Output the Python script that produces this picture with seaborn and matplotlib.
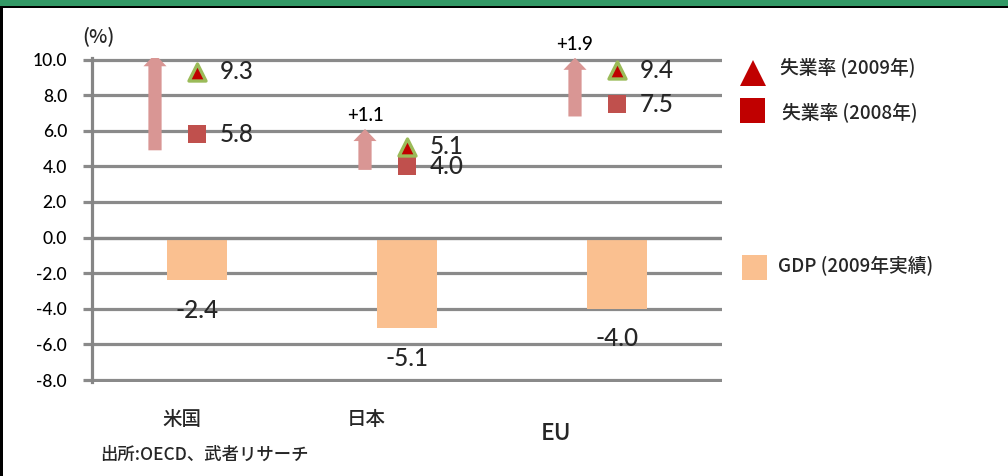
import matplotlib
matplotlib.use("Agg")
import matplotlib.pyplot as plt
import seaborn as sns
import pandas as pd
from matplotlib.patches import FancyArrow, Rectangle
from matplotlib.lines import Line2D

# ---------------- data ----------------
categories = ["米国", "日本", "EU"]
unemp_2009 = [9.3, 5.1, 9.4]
unemp_2008 = [5.8, 4.0, 7.5]
gdp_2009 = [-2.4, -5.1, -4.0]
arrow_bottom = [4.9, 3.8, 6.8]
arrow_top = [10.3, 6.1, 10.1]
yticks = [-8, -6, -4, -2, 0, 2, 4, 6, 8, 10]
legend_labels = ["失業率 (2009年)", "失業率 (2008年)", "GDP (2009年実績)"]
unit_label = "(%)"
source_note = "出所:OECD、武者リサーチ"

# ---------------- style ----------------
sns.set_theme(style="white")
plt.rcParams["font.family"] = ["Lato", "Noto Sans CJK JP", "DejaVu Sans"]
plt.rcParams["font.weight"] = 500
CJK = ["Noto Sans CJK JP", "DejaVu Sans"]

W, H = 1008, 476
fig = plt.figure(figsize=(W / 100, H / 100), dpi=100)
fig.patch.set_facecolor("white")

ppu = 320.5 / 18.0
ext = 0.1
top_px = 59.5 - ext * ppu
bot_px = 380.0 + ext * ppu
ax = fig.add_axes([92 / W, 1 - bot_px / H, 630 / W, (bot_px - top_px) / H])

GRID = "#8a8a8a"
AXC = "#868686"
BAR = "#FAC090"
ARROW = "#D99694"

df = pd.DataFrame({"country": categories, "gdp": gdp_2009,
                   "u08": unemp_2008, "u09": unemp_2009})

sns.barplot(data=df, x="country", y="gdp", color=BAR, saturation=1,
            width=0.286, ax=ax, zorder=3, linewidth=0)
sns.scatterplot(data=df, x="country", y="u08", marker="s", s=150,
                color="#C0504D", edgecolor="#C0504D", linewidth=0,
                ax=ax, zorder=6, legend=False)
sns.scatterplot(data=df, x="country", y="u09", marker="^", s=150,
                color="#C00000", edgecolor="#9BBB59", linewidth=2.4,
                ax=ax, zorder=6, legend=False)

ax.set_xlim(-0.5, 2.5)
ax.set_ylim(-8 - ext, 10 + ext)
ax.set_yticks(yticks)
ax.set_yticklabels([f"{v:.1f}" for v in yticks])
ax.yaxis.grid(True, color=GRID, lw=2.3, zorder=0)
ax.xaxis.grid(False)
ax.set_axisbelow(True)
ax.tick_params(axis="y", left=True, length=6.5, width=2.3, color=GRID,
               pad=11.5, labelsize=12.5, labelcolor="black", direction="out")
ax.tick_params(axis="x", bottom=False, labelbottom=False)
ax.set_xlabel("")
ax.set_ylabel("")
for s in ["top", "right", "bottom"]:
    ax.spines[s].set_visible(False)
ax.spines["left"].set_color(AXC)
ax.spines["left"].set_linewidth(2.3)
ax.axhline(0, color=AXC, lw=2.3, zorder=4)

# arrows and change labels
for i in range(len(categories)):
    xa = i - 0.2
    ax.add_patch(FancyArrow(xa, arrow_bottom[i], 0, arrow_top[i] - arrow_bottom[i],
                            width=0.063, head_width=0.11, head_length=0.68,
                            length_includes_head=True, color=ARROW, lw=0, zorder=5))
    delta = unemp_2009[i] - unemp_2008[i]
    ax.annotate(f"+{delta:.1f}", xy=(xa, arrow_top[i]), xytext=(0, 13),
                textcoords="offset pixels", ha="center", va="center",
                fontsize=13.5, color="black")

# value labels
for i in range(len(categories)):
    ax.annotate(f"{unemp_2009[i]:.1f}", xy=(i, unemp_2009[i]), xytext=(23, 0),
                textcoords="offset pixels", ha="left", va="center", fontsize=17.5)
    ax.annotate(f"{unemp_2008[i]:.1f}", xy=(i, unemp_2008[i]), xytext=(23, 0),
                textcoords="offset pixels", ha="left", va="center", fontsize=17.5)
    ax.annotate(f"{gdp_2009[i]:.1f}", xy=(i, gdp_2009[i]), xytext=(0, -30),
                textcoords="offset pixels", ha="center", va="center", fontsize=17.5)

# category labels (positioned like the original text boxes)
cat_dx = [-15, -41, -61]
cat_dy = [-39, -39, -53]
cat_fs = [14, 14, 16.5]
for i, c in enumerate(categories):
    ax.annotate(c, xy=(i, -8), xytext=(cat_dx[i], cat_dy[i]),
                textcoords="offset pixels", ha="center", va="center",
                fontsize=cat_fs[i], family=CJK, annotation_clip=False)

# unit and source
fig.text(98 / W, 1 - 36 / H, unit_label, ha="center", va="center",
         fontsize=14, family=CJK)
fig.text(100 / W, 1 - 455 / H, source_note, ha="left", va="center",
         fontsize=12.5, family=CJK)

# legend (manual placement)
leg_items = [
    dict(marker="^", color="#C00000", ms=18.5, mx=753, my=73, tx=780, ty=67),
    dict(marker="s", color="#C00000", ms=18, mx=752, my=110, tx=782, ty=112),
    dict(marker="s", color=BAR, ms=18, mx=754, my=267, tx=778, ty=265),
]
for item, lab in zip(leg_items, legend_labels):
    fig.add_artist(Line2D([item["mx"] / W], [1 - item["my"] / H],
                          transform=fig.transFigure, marker=item["marker"],
                          markersize=item["ms"], color=item["color"],
                          markeredgewidth=0, linestyle="none"))
    fig.text(item["tx"] / W, 1 - item["ty"] / H, lab, ha="left", va="center",
             fontsize=13.5, family=CJK)

# frame decorations: green header band, black rule, left border
fig.add_artist(Rectangle((0, 1 - 6 / H), 1, 6 / H, transform=fig.transFigure,
                         color="#339966", lw=0))
fig.add_artist(Rectangle((0, 1 - 8 / H), 1, 2 / H, transform=fig.transFigure,
                         color="black", lw=0))
fig.add_artist(Rectangle((0, 0), 3 / W, 1 - 6 / H, transform=fig.transFigure,
                         color="black", lw=0))

fig.savefig("out.png", dpi=100)
